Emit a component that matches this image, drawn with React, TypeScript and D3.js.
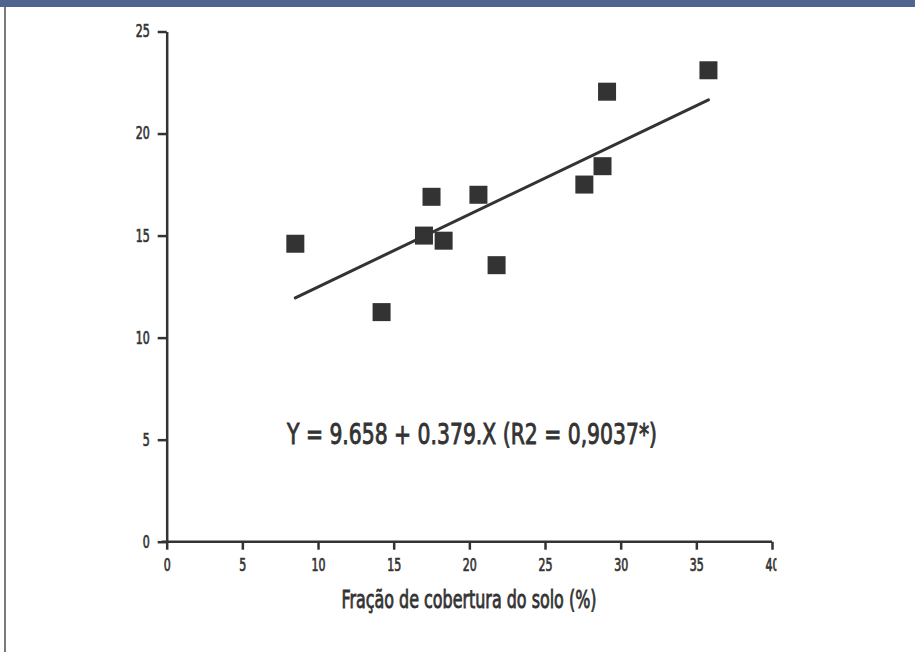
import React, { useEffect, useRef } from 'react';
import * as d3 from 'd3';

// Observed points: soil cover fraction (%) vs. response
const coverX = [8.5, 14.2, 17.0, 17.5, 18.3, 20.6, 21.8, 27.6, 28.8, 29.1, 35.8];
const valueY = [14.6, 11.25, 15.0, 16.9, 14.75, 17.0, 13.55, 17.5, 18.4, 22.05, 23.1];

// Fitted line as drawn in the figure (start / end)
const fitX = [8.5, 35.8];
const fitY = [11.95, 21.65];

const xTicks = [0, 5, 10, 15, 20, 25, 30, 35, 40];
const yTicks = [0, 5, 10, 15, 20, 25];

const xLabel = 'Fração de cobertura do solo (%)';
const equation = 'Y = 9.658 + 0.379.X (R2 = 0,9037*)';

const FONT = '"DejaVu Sans Condensed", "Liberation Sans Narrow", "Roboto", sans-serif';
const INK = '#333333';
const SQUEEZE = 0.72; // tick labels are a very narrow face in the original

const App = () => {
  const svgRef = useRef<SVGSVGElement>(null);

  useEffect(() => {
    const width = 915;
    const height = 652;

    const svg = d3.select(svgRef.current);
    svg.selectAll('*').remove();
    svg.attr('width', width).attr('height', height);

    // Frame: top band and left border
    svg.append('rect').attr('x', 0).attr('y', 0).attr('width', width).attr('height', height).attr('fill', '#fff');
    svg.append('rect').attr('x', 0).attr('y', 0).attr('width', width).attr('height', 7).attr('fill', '#4f648e');
    svg.append('rect').attr('x', 4).attr('y', 7).attr('width', 2).attr('height', height - 7).attr('fill', '#7a7a7a');

    // the original is cropped just right of the last x tick label
    svg
      .append('clipPath')
      .attr('id', 'crop')
      .append('rect')
      .attr('x', 0)
      .attr('y', 0)
      .attr('width', 776.5)
      .attr('height', height);

    const x = d3.scaleLinear().domain([0, 40]).range([166.7, 772]);
    const y = d3.scaleLinear().domain([0, 25]).range([541.7, 31.5]);

    // X axis
    const gx = svg
      .append('g')
      .attr('clip-path', 'url(#crop)')
      .append('g')
      .attr('transform', `translate(0,${y(0)})`)
      .call(d3.axisBottom(x).tickValues(xTicks).tickSize(8).tickSizeOuter(0).tickPadding(9));

    // Y axis
    const gy = svg
      .append('g')
      .attr('transform', `translate(${x(0)},0)`)
      .call(d3.axisLeft(y).tickValues(yTicks).tickSize(9).tickSizeOuter(0).tickPadding(8));

    [gx, gy].forEach((g) => {
      g.select('.domain').attr('stroke', INK).attr('stroke-width', 2.5);
      g.selectAll('.tick line').attr('stroke', INK).attr('stroke-width', 2.5);
      g.selectAll('.tick text')
        .attr('fill', INK)
        .attr('stroke', INK)
        .attr('stroke-width', 0.7)
        .style('font-family', FONT)
        .style('font-size', '17px');
    });
    gx.selectAll('.tick text').attr('transform', `scale(${SQUEEZE},1)`);
    gy.selectAll('.tick text')
      .attr('x', -17 / SQUEEZE)
      .attr('transform', `scale(${SQUEEZE},1)`);
    // extend x axis slightly left like the original
    gx.select('.domain').attr('d', `M${x(0) - 5},0H${x(40)}`);

    // Regression line
    svg
      .append('line')
      .attr('x1', x(fitX[0]))
      .attr('y1', y(fitY[0]))
      .attr('x2', x(fitX[1]))
      .attr('y2', y(fitY[1]))
      .attr('stroke', INK)
      .attr('stroke-width', 3)
      .attr('stroke-linecap', 'round');

    // Square markers
    const size = 18;
    svg
      .append('g')
      .selectAll('rect')
      .data(coverX.map((cx, i) => ({ cx, cy: valueY[i] })))
      .join('rect')
      .attr('x', (d) => x(d.cx) - size / 2)
      .attr('y', (d) => y(d.cy) - size / 2)
      .attr('width', size)
      .attr('height', size)
      .attr('fill', INK);

    // Equation
    svg
      .append('text')
      .attr('x', 287)
      .attr('y', 444)
      .attr('fill', INK)
      .attr('stroke', INK)
      .attr('stroke-width', 0.9)
      .attr('textLength', 370)
      .attr('lengthAdjust', 'spacingAndGlyphs')
      .style('font-family', FONT)
      .style('font-size', '29px')
      .text(equation);

    // X axis title
    svg
      .append('text')
      .attr('x', 341.5)
      .attr('y', 608)
      .attr('fill', INK)
      .attr('stroke', INK)
      .attr('stroke-width', 0.8)
      .attr('textLength', 255)
      .attr('lengthAdjust', 'spacingAndGlyphs')
      .style('font-family', FONT)
      .style('font-size', '24px')
      .text(xLabel);
  }, []);

  return <svg ref={svgRef} style={{ position: 'absolute', left: 0, top: 0 }}></svg>;
};

export default App;
